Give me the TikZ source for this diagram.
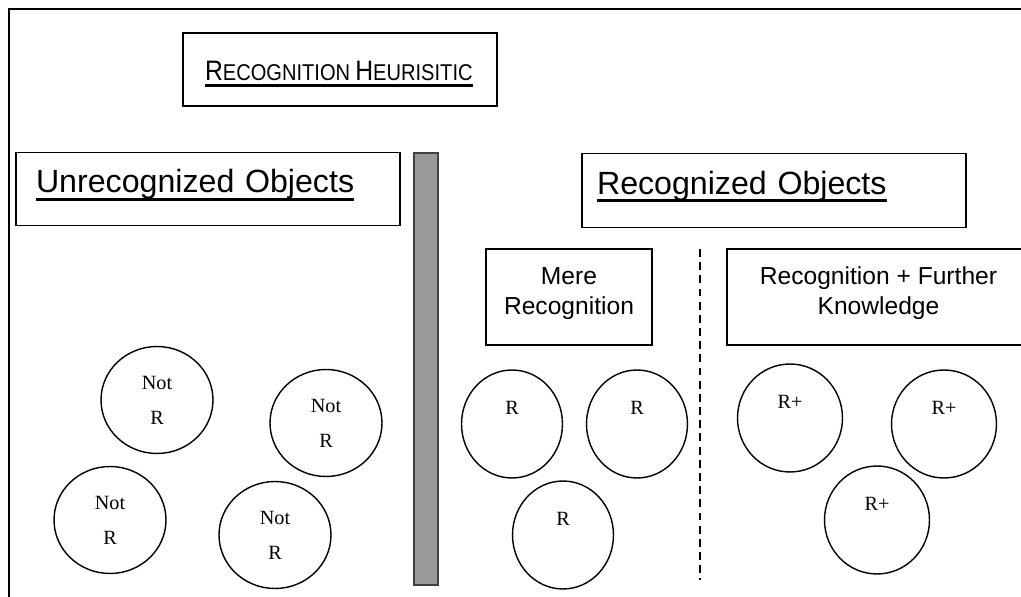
\documentclass[tikz,border=0pt]{standalone}
\usepackage{graphicx}
\usepackage{fontspec}
\setmainfont{Liberation Sans}
\newfontfamily\timesfont{Liberation Serif}
\usetikzlibrary{shapes.geometric}

% underlined text
\newcommand\ulbox[2]{\setbox0=\hbox{#2}\rlap{\rule[#1]{\wd0}{1.7pt}}\box0}
\newcommand\smcap[1]{{\fontsize{13}{14}\selectfont #1}}

\tikzset{
  textbox/.style={draw, line width=0.8pt, rectangle, inner ysep=0pt, align=center},
  headbox/.style={textbox, align=left, minimum height=1.47cm,
    text height=14pt, font=\fontsize{18.3}{22}\selectfont},
  objcirc/.style={draw, line width=0.8pt, ellipse, inner sep=0pt, align=center,
    minimum width=2.24cm, minimum height=2.14cm,
    font=\timesfont\fontsize{11.5}{20}\selectfont},
  objlbl/.style={inner sep=0pt, font=\timesfont\fontsize{11.5}{14}\selectfont}
}

\begin{document}
\begin{tikzpicture}[x=0.02cm, y=-0.02cm]
\useasboundingbox (0,0) rectangle (1021,597);
% frame
\coordinate (fbl) at (9,610);
\coordinate (ftl) at (9,9);
\coordinate (ftr) at (1040,9);
\draw[line width=1.2pt] (fbl) -- (ftl) -- (ftr);

% headings
\node[textbox, align=left, inner xsep=0.44cm, text width=5.4cm, minimum height=1.46cm,
  text height=15pt, text depth=2pt] (title) at (340,69.5)
  {\scalebox{0.88}[1]{\fontsize{16}{17}\selectfont\ulbox{-3.2pt}{R\smcap{ECOGNITION} H\smcap{EURISITIC}}}};
\node[headbox, inner xsep=0.4cm, text width=6.88cm, text depth=9.5pt] (unrec) at (208,189)
  {\ulbox{-4.8pt}{Unrecognized Objects}};
\node[headbox, inner xsep=0.3cm, text width=7.08cm, text depth=10pt] (rec) at (774,190.5)
  {\ulbox{-4.8pt}{Recognized Objects}};
\node[textbox, minimum width=3.32cm, minimum height=1.92cm, text depth=7pt,
  font=\fontsize{14}{17}\selectfont] (mere) at (569,297) {Mere\\Recognition};
\node[textbox, minimum width=6.06cm, minimum height=1.92cm, text depth=7pt,
  font=\fontsize{14}{17}\selectfont] (further) at (878.5,297) {Recognition + Further\\Knowledge};

% separators
\node[draw=black!75, line width=1pt, fill=black!40, minimum width=0.48cm,
  minimum height=8.64cm, inner sep=0pt] (bar) at (426,369) {};
\coordinate (dtop) at (700,249);
\coordinate (dbot) at (700,580);
\draw[line width=1pt, dash pattern=on 4.5pt off 3pt] (dtop) -- (dbot);

% unrecognized objects
\node[objcirc] (nr1) at (157,400) {Not\\R};
\node[objcirc] (nr2) at (326,423) {Not\\R};
\node[objcirc] (nr3) at (110,520) {Not\\R};
\node[objcirc] (nr4) at (275,535) {Not\\R};

% mere recognition
\node[objcirc, minimum width=2.02cm, minimum height=2.16cm] (r1) at (512,424) {};
\node[objcirc, minimum width=2.02cm, minimum height=2.16cm] (r2) at (637,424) {};
\node[objcirc, minimum width=2.02cm, minimum height=2.16cm] (r3) at (563,535) {};
\node[objlbl] (r1t) at ([yshift=9pt]r1.center) {R};
\node[objlbl] (r2t) at ([yshift=9pt]r2.center) {R};
\node[objlbl] (r3t) at ([yshift=9pt]r3.center) {R};

% recognition + further knowledge
\node[objcirc, minimum width=2.1cm, minimum height=2.16cm] (rp1) at (790,418) {};
\node[objcirc, minimum width=2.1cm, minimum height=2.16cm] (rp2) at (944,424) {};
\node[objcirc, minimum width=2.1cm, minimum height=2.16cm] (rp3) at (877,520) {};
\node[objlbl] (rp1t) at ([yshift=9pt]rp1.center) {R+};
\node[objlbl] (rp2t) at ([yshift=9pt]rp2.center) {R+};
\node[objlbl] (rp3t) at ([yshift=9pt]rp3.center) {R+};
\end{tikzpicture}
\end{document}
